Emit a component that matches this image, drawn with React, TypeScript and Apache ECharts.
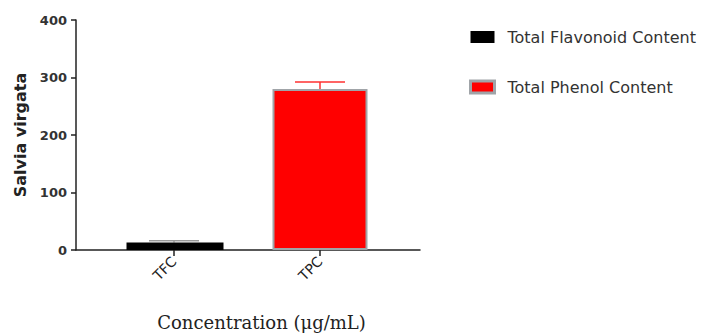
import React, { useEffect, useRef } from "react";
import * as echarts from "echarts";

const categories = ["TFC", "TPC"];
const seriesNames = ["Total Flavonoid Content", "Total Phenol Content"];
const means = [13, 280];
const errors = [3, 12];
const yTicks = [0, 100, 200, 300, 400];

export default function App() {
  const ref = useRef<HTMLDivElement>(null);
  useEffect(() => {
    if (!ref.current) return;
    const chart = echarts.init(ref.current, undefined, { renderer: "svg" });
    const axisColor = "#222";
    const sans = "DejaVu Sans, Arial";
    const option: any = {
      animation: false,
      backgroundColor: "#fff",
      grid: [
        { left: 76, right: 284, top: 20, bottom: 83, outerBoundsMode: "none", containLabel: false },
        { left: 101, right: 311, top: 20, bottom: 83, outerBoundsMode: "none", containLabel: false },
      ],
      legend: {
        orient: "vertical",
        left: 464,
        top: 24,
        itemWidth: 24,
        itemHeight: 12,
        itemGap: 34,
        icon: "rect",
        textStyle: { fontFamily: sans, fontSize: 16, color: "#333", padding: [0, 0, 0, 8] },
        data: [
          { name: seriesNames[0], itemStyle: { color: "#000" } },
          { name: seriesNames[1], itemStyle: { color: "#ff0000", borderColor: "#a0a4a8", borderWidth: 3 } },
        ],
      },
      xAxis: [
        {
          type: "value",
          gridIndex: 0,
          min: 0,
          max: 1,
          axisLine: { show: true, onZero: false, lineStyle: { color: axisColor, width: 1.5 } },
          axisTick: { show: false },
          axisLabel: { show: false },
          splitLine: { show: false },
          name: "Concentration (μg/mL)",
          nameLocation: "middle",
          nameGap: 63,
          nameTextStyle: { fontFamily: "DejaVu Serif, Times New Roman", fontSize: 18, color: "#222", padding: [0, 0, 0, 27] },
        },
        {
          type: "category",
          gridIndex: 1,
          data: categories,
          axisLine: { show: false },
          axisTick: { show: true, alignWithLabel: true, length: 6, lineStyle: { color: axisColor, width: 1.5 } },
          axisLabel: {
            rotate: 45,
            margin: 9,
            fontFamily: sans,
            fontSize: 14,
            color: "#222",
          },
        },
      ],
      yAxis: [
        {
          type: "value",
          gridIndex: 0,
          min: 0,
          max: 400,
          interval: 100,
          axisLine: { show: true, lineStyle: { color: axisColor, width: 1.5 } },
          axisTick: { show: true, length: 5, lineStyle: { color: axisColor, width: 1.5 } },
          axisLabel: {
            fontFamily: sans,
            fontSize: 13,
            fontWeight: "bold",
            color: "#333",
            margin: 9,
            formatter: (v: number) => (yTicks.includes(v) ? String(v) : ""),
          },
          splitLine: { show: false },
          name: "Salvia virgata",
          nameLocation: "middle",
          nameGap: 48,
          nameTextStyle: { fontFamily: sans, fontSize: 16, fontWeight: "bold", color: "#222" },
        },
        { type: "value", gridIndex: 1, min: 0, max: 400, show: false },
      ],
      series: [
        {
          name: seriesNames[0],
          type: "bar",
          xAxisIndex: 1,
          yAxisIndex: 1,
          barWidth: 97,
          barGap: "-100%",
          data: [means[0], "-"],
          itemStyle: { color: "#000" },
        },
        {
          name: seriesNames[1],
          type: "bar",
          xAxisIndex: 1,
          yAxisIndex: 1,
          barWidth: 95,
          barGap: "-100%",
          data: ["-", means[1]],
          itemStyle: { color: "#ff0000", borderColor: "#a0a4a8", borderWidth: 2 },
        },
        {
          type: "custom",
          xAxisIndex: 1,
          yAxisIndex: 1,
          silent: true,
          z: 1,
          data: categories.map((c, i) => [i, means[i], errors[i]]),
          renderItem: (params: any, api: any) => {
            const i = api.value(0);
            const m = api.value(1);
            const e = api.value(2);
            const base = api.coord([i, m]);
            const top = api.coord([i, m + e]);
            const half = 25;
            const color = i === 0 ? "#999" : "#ff3030";
            return {
              type: "group",
              children: [
                { type: "line", shape: { x1: base[0], y1: base[1], x2: top[0], y2: top[1] }, style: { stroke: color, lineWidth: 1.5 } },
                { type: "line", shape: { x1: top[0] - half, y1: top[1], x2: top[0] + half, y2: top[1] }, style: { stroke: color, lineWidth: 1.5 } },
              ],
            };
          },
        },
      ],
    };
    chart.setOption(option);
    return () => chart.dispose();
  }, []);
  return <div ref={ref} style={{ width: 704, height: 333, position: "absolute", left: 0, top: 0 }} />;
}
